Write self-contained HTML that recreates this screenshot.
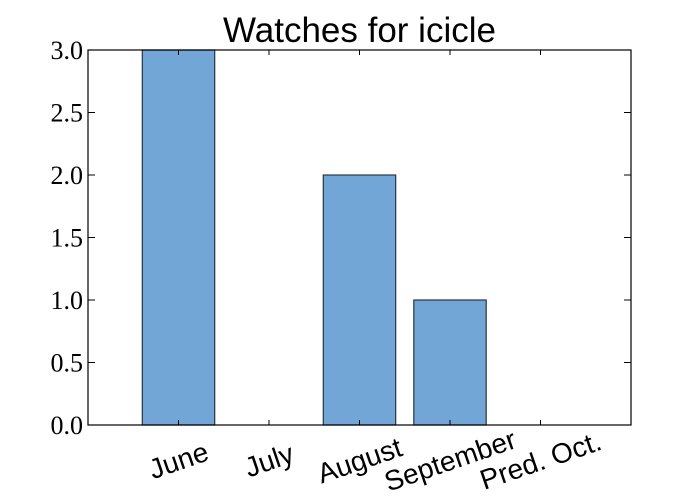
<!DOCTYPE html>
<html><head><meta charset="utf-8"><style>body{margin:0;background:#fff}svg{display:block}</style></head>
<body>
<svg id="chart" width="700" height="500" xmlns="http://www.w3.org/2000/svg">
<rect width="700" height="500" fill="#fff"/>
<text x="359.5" y="42" text-anchor="middle" font-family="Liberation Sans, sans-serif" font-size="35">Watches for icicle</text>
<g id="bars"></g>
<rect x="88" y="50" width="543" height="375" fill="none" stroke="#000" stroke-width="1.2"/>
<g id="ticks"></g>
</svg>
<script>
const categories = ["June","July","August","September","Pred. Oct."];
const values = [3,0,2,1,0];
const yTicks = [0,0.5,1,1.5,2,2.5,3];
const yTickLabels = ["0.0","0.5","1.0","1.5","2.0","2.5","3.0"];
const NS="http://www.w3.org/2000/svg";
const L=88,R=631,T=50,B=425;
const xs=i=>L+(R-L)*(i+1)/(categories.length+1);
const ys=v=>B-(B-T)*v/3;
const step=(R-L)/(categories.length+1);
const bars=document.getElementById('bars'),tk=document.getElementById('ticks');
function mk(t,a,p){const e=document.createElementNS(NS,t);for(const k in a)e.setAttribute(k,a[k]);p.appendChild(e);return e;}
categories.forEach((c,i)=>{
  const w=step*0.8,x=xs(i)-w/2,y=ys(values[i]);
  const r=mk('rect',{x:x,y:y,width:w,height:B-y,fill:'#72a6d6',stroke:'#2a3540','stroke-width':1.2},bars);
  
  
  const l1=mk('line',{x1:xs(i),x2:xs(i),y1:B,y2:B-5,stroke:'#000'},tk);
  
  
  const l2=mk('line',{x1:xs(i),x2:xs(i),y1:T,y2:T+5,stroke:'#000'},tk);
  
  
  const tx=xs(i),ty=470;
  const t=mk('text',{x:tx,y:ty,'text-anchor':'middle','font-family':'Liberation Sans, sans-serif','font-size':28,transform:`rotate(-19 ${tx} ${ty-10})`},tk);
  t.textContent=c;
  
  
});
yTicks.forEach((v,i)=>{
  const y=ys(v);
  const a=mk('line',{x1:L,x2:L+7,y1:y,y2:y,stroke:'#000'},tk);
  
  
  const b=mk('line',{x1:R,x2:R-7,y1:y,y2:y,stroke:'#000'},tk);
  
  
  const t=mk('text',{x:L-5,y:y+9,'text-anchor':'end','font-family':'Liberation Serif, serif','font-size':26},tk);
  t.textContent=yTickLabels[i];
  
  
});
</script>
</body></html>
